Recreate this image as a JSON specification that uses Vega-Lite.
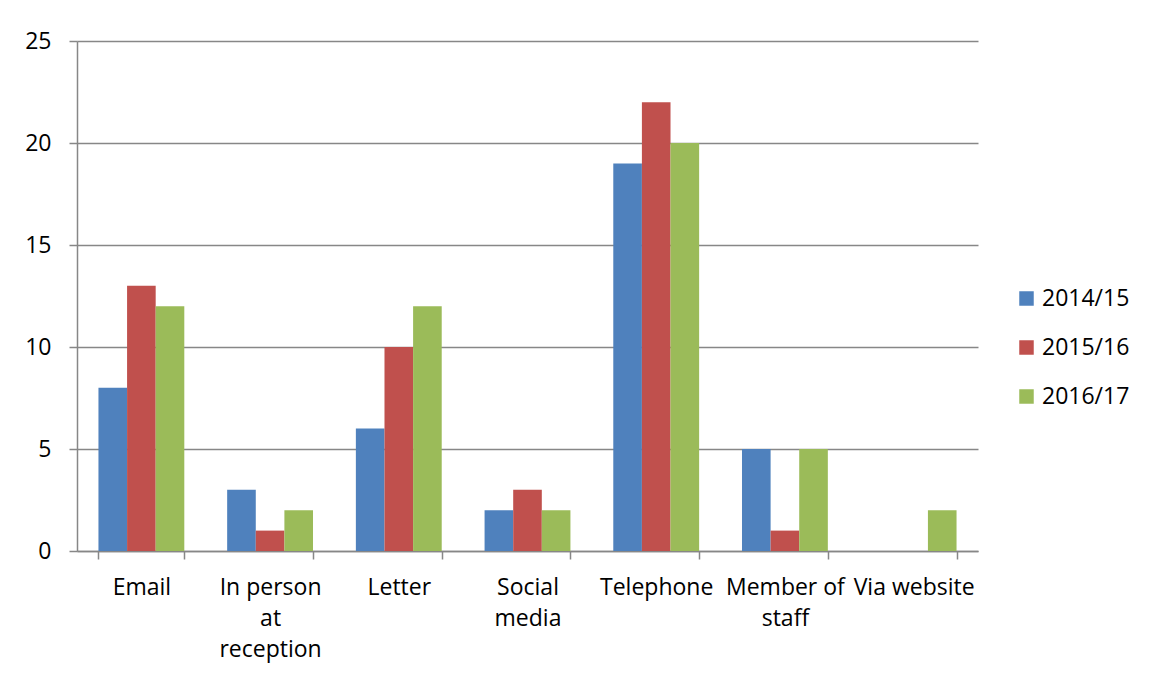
{
  "$schema": "https://vega.github.io/schema/vega-lite/v6.json",
  "width": 901,
  "height": 510,
  "autosize": "none",
  "padding": {"left": 77, "top": 41, "right": 171, "bottom": 126},
  "background": "white",
  "config": {
    "font": "Open Sans",
    "view": {"stroke": null},
    "axis": {
      "domainColor": "#878787",
      "domainWidth": 1.5,
      "tickColor": "#878787",
      "tickWidth": 1.5,
      "tickSize": 8,
      "gridColor": "#878787",
      "gridWidth": 1.5,
      "labelColor": "#000000",
      "labelFontSize": 23,
      "labelFont": "Open Sans"
    }
  },
  "data": {
    "values": [
      {"channel": "Email", "year": "2014/15", "count": 8},
      {"channel": "Email", "year": "2015/16", "count": 13},
      {"channel": "Email", "year": "2016/17", "count": 12},
      {"channel": "In person at reception", "year": "2014/15", "count": 3},
      {"channel": "In person at reception", "year": "2015/16", "count": 1},
      {"channel": "In person at reception", "year": "2016/17", "count": 2},
      {"channel": "Letter", "year": "2014/15", "count": 6},
      {"channel": "Letter", "year": "2015/16", "count": 10},
      {"channel": "Letter", "year": "2016/17", "count": 12},
      {"channel": "Social media", "year": "2014/15", "count": 2},
      {"channel": "Social media", "year": "2015/16", "count": 3},
      {"channel": "Social media", "year": "2016/17", "count": 2},
      {"channel": "Telephone", "year": "2014/15", "count": 19},
      {"channel": "Telephone", "year": "2015/16", "count": 22},
      {"channel": "Telephone", "year": "2016/17", "count": 20},
      {"channel": "Member of staff", "year": "2014/15", "count": 5},
      {"channel": "Member of staff", "year": "2015/16", "count": 1},
      {"channel": "Member of staff", "year": "2016/17", "count": 5},
      {"channel": "Via website", "year": "2016/17", "count": 2}
    ]
  },
  "mark": {"type": "bar"},
  "encoding": {
    "x": {
      "field": "channel",
      "type": "nominal",
      "sort": null,
      "scale": {"paddingInner": 0.333, "paddingOuter": 0.1667},
      "axis": {
        "title": null,
        "labelAngle": 0,
        "labelPadding": 17,
        "labelLimit": 0,
        "labelOverlap": false,
        "labelLineHeight": 31,
        "labelBaseline": "top",
        "tickBand": "extent",
        "labelExpr": "datum.value == 'In person at reception' ? ['In person', 'at', 'reception'] : datum.value == 'Social media' ? ['Social', 'media'] : datum.value == 'Member of staff' ? ['Member of', 'staff'] : datum.value"
      }
    },
    "xOffset": {
      "field": "year",
      "type": "nominal",
      "scale": {"domain": ["2014/15", "2015/16", "2016/17"], "paddingInner": 0, "paddingOuter": 0}
    },
    "y": {
      "field": "count",
      "type": "quantitative",
      "scale": {"domain": [0, 25], "nice": false},
      "axis": {
        "title": null,
        "values": [0, 5, 10, 15, 20, 25],
        "grid": true,
        "labelPadding": 18
      }
    },
    "color": {
      "field": "year",
      "type": "nominal",
      "scale": {
        "domain": ["2014/15", "2015/16", "2016/17"],
        "range": ["#4F81BD", "#C0504D", "#9BBB59"]
      },
      "legend": {
        "title": null,
        "orient": "none",
        "legendX": 938,
        "legendY": 246,
        "padding": 0,
        "symbolType": "square",
        "symbolSize": 210,
        "symbolStrokeWidth": 0,
        "symbolOpacity": 1,
        "labelFontSize": 23,
        "labelColor": "#000000",
        "labelOffset": 4,
        "rowPadding": 25
      }
    }
  }
}
